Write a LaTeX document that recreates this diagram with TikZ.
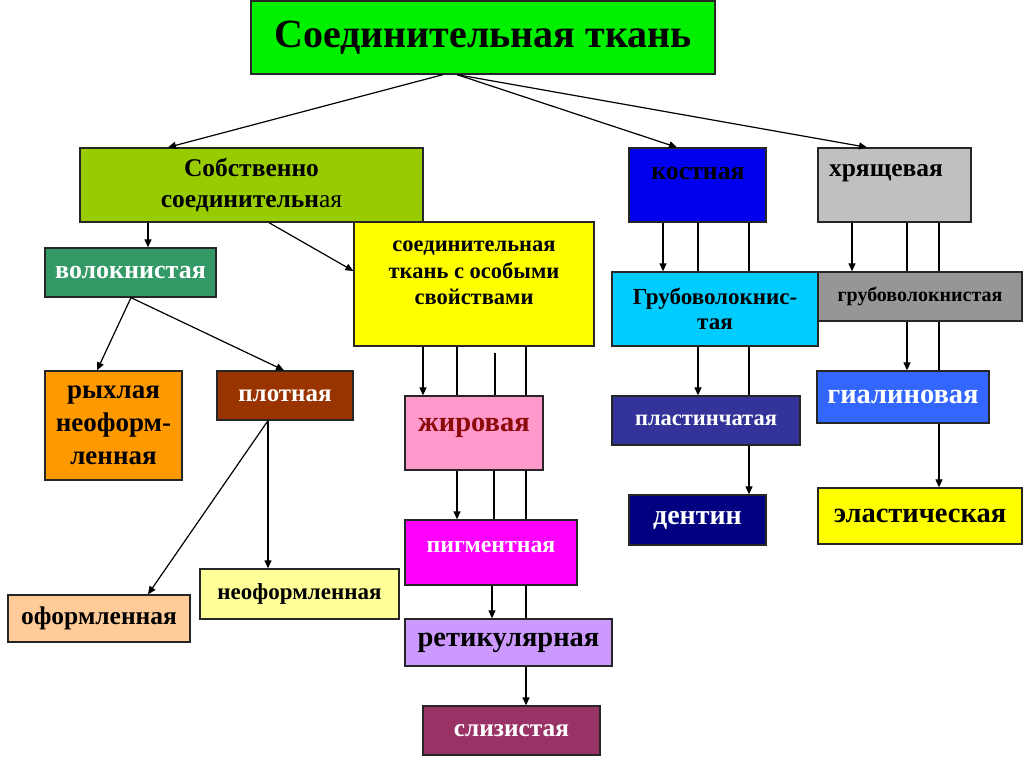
\documentclass[tikz,border=0pt]{standalone}
\usepackage{fontspec}
\setmainfont{Liberation Serif}
\usetikzlibrary{arrows.meta}
\definecolor{cTitle}{HTML}{00F000}
\definecolor{cSob}{HTML}{99CC00}
\definecolor{cKost}{HTML}{0000EE}
\definecolor{cHr}{HTML}{C0C0C0}
\definecolor{cVol}{HTML}{339966}
\definecolor{cSpec}{HTML}{FFFF00}
\definecolor{cGr1}{HTML}{00CCFF}
\definecolor{cGr2}{HTML}{969696}
\definecolor{cRyh}{HTML}{FF9900}
\definecolor{cPlot}{HTML}{993300}
\definecolor{cZhir}{HTML}{FF99CC}
\definecolor{cZhirT}{HTML}{8B0A0A}
\definecolor{cPlast}{HTML}{333399}
\definecolor{cGial}{HTML}{3366FF}
\definecolor{cDent}{HTML}{000080}
\definecolor{cEl}{HTML}{FFFF00}
\definecolor{cPigm}{HTML}{FF00FF}
\definecolor{cOf}{HTML}{FFCC99}
\definecolor{cNeof}{HTML}{FFFF99}
\definecolor{cRet}{HTML}{CC99FF}
\definecolor{cSliz}{HTML}{993366}
\newcommand\fs[2]{\fontsize{#1}{#2}\selectfont\bfseries}
\newcommand\bx[9]{\node[box,fill=#6,text=#7,font=#8,minimum width={(#4-#2)*1pt},minimum height={(#5-#3)*1pt}] (#1) at ({(#2+#4)/2},{(#3+#5)/2}) {#9};}
\begin{document}
\begin{tikzpicture}[x=1pt,y=-1pt,
  box/.style={draw=black!85,line width=1.3pt,inner sep=0pt,align=center},
  arr/.style={-{Triangle[length=8pt,width=7pt]},line width=1.2pt},
  ln/.style={line width=1.2pt}]
\useasboundingbox[fill=white] (0,0) rectangle (1024,768);
% boxes
\bx{title}{251}{1}{715}{74}{cTitle}{black}{\fs{40}{46}}{Соединительная ткань}
\bx{sob}{80}{148}{423}{222}{cSob}{black}{\fs{25.5}{31}}{\rule{0pt}{8pt}Собственно\\соединительн{\mdseries ая}}
\bx{kost}{629}{148}{766}{222}{cKost}{black}{}{}
\bx{hr}{818}{148}{971}{222}{cHr}{black}{}{}
\bx{vol}{45}{248}{216}{297}{cVol}{white}{\fs{26}{30}}{волокнистая}
\bx{spec}{354}{222}{594}{346}{cSpec}{black}{}{}
\bx{gr1}{612}{272}{818}{346}{cGr1}{black}{\fs{23}{25}}{Грубоволокнис-\\тая}
\bx{gr2}{818}{272}{1022}{321}{cGr2}{black}{\fs{20}{22}}{грубоволокнистая}
\bx{ryh}{45}{371}{182}{480}{cRyh}{black}{\fs{27}{33}}{рыхлая\\неоформ-\\ленная}
\bx{plot}{217}{371}{353}{420}{cPlot}{white}{\fs{25}{28}}{плотная}
\bx{zhir}{405}{396}{543}{470}{cZhir}{cZhirT}{}{}
\bx{plast}{612}{396}{800}{445}{cPlast}{white}{\fs{22.5}{25}}{пластинчатая}
\bx{gial}{817}{371}{989}{423}{cGial}{white}{\fs{28.5}{31}}{гиалиновая}
\bx{dent}{629}{495}{766}{545}{cDent}{white}{\fs{28}{31}}{дентин}
\bx{el}{818}{488}{1022}{544}{cEl}{black}{\fs{28.5}{31}}{эластическая}
\bx{pigm}{405}{520}{577}{585}{cPigm}{white}{}{}
\bx{of}{8}{595}{190}{642}{cOf}{black}{\fs{25.5}{28}}{оформленная}
\bx{neof}{200}{569}{399}{619}{cNeof}{black}{\fs{23}{26}}{неоформленная}
\bx{ret}{405}{619}{612}{666}{cRet}{black}{\fs{28.5}{31}}{ретикулярная}
\bx{sliz}{423}{706}{600}{755}{cSliz}{white}{\fs{25.3}{28}}{слизистая}
% off-centre texts
\node[text=black,font=\fs{25.8}{28}] (kostT) at (698,174) {костная};
\node[text=black,font=\fs{25.5}{28}] (hrT) at (886,173) {хрящевая};
\node[align=center,text=black,font=\fs{22.5}{26.5}] (specT) at (474,273) {соединительная\\ткань с особыми\\свойствами};
\node[text=cZhirT,font=\fs{28.5}{31}] (zhirT) at (474,428) {жировая};
\node[text=white,font=\fs{23.8}{26}] (pigmT) at (491,547) {пигментная};
% connectors from title
\draw[arr] (title.south -| 443,0) -- (sob.north -| 168,0);
\draw[arr] (title.south -| 457,0) -- (kost.north -| 677,0);
\draw[arr] (title.south -| 457,0) -- (hr.north -| 867,0);
% left branch
\draw[arr] (sob.south -| 148,0) -- (vol.north -| 148,0);
\draw[arr] (sob.south -| 269,0) -- (spec.west |- 0,271);
\draw[arr] (vol.south -| 131,0) -- (ryh.north -| 97,0);
\draw[arr] (vol.south -| 131,0) -- (plot.north -| 284,0);
\draw[arr] (plot.south -| 268,0) -- (of.north -| 148,0);
\draw[arr] (plot.south -| 268,0) -- (neof.north -| 268,0);
% special chain
\draw[arr] (spec.south -| 423,0) -- (zhir.north -| 423,0);
\draw[ln] (spec.south -| 457,0) -- (zhir.north -| 457,0);
\draw[ln] (spec.south -| 495,0) ++(0,6) -- (zhir.north -| 495,0);
\draw[ln] (spec.south -| 526,0) -- (zhir.north -| 526,0);
\draw[arr] (zhir.south -| 457,0) -- (pigm.north -| 457,0);
\draw[ln] (zhir.south -| 494,0) -- (pigm.north -| 494,0);
\draw[ln] (zhir.south -| 526,0) -- (pigm.north -| 526,0);
\draw[arr] (pigm.south -| 492,0) -- (ret.north -| 492,0);
\draw[ln] (pigm.south -| 526,0) -- (ret.north -| 526,0);
\draw[arr] (ret.south -| 526,0) -- (sliz.north -| 526,0);
% bone chain
\draw[arr] (kost.south -| 663,0) -- (gr1.north -| 663,0);
\draw[ln] (kost.south -| 698,0) -- (gr1.north -| 698,0);
\draw[ln] (kost.south -| 749,0) -- (gr1.north -| 749,0);
\draw[arr] (gr1.south -| 698,0) -- (plast.north -| 698,0);
\draw[ln] (gr1.south -| 749,0) -- (plast.north -| 749,0);
\draw[arr] (plast.south -| 749,0) -- (dent.north -| 749,0);
% cartilage chain
\draw[arr] (hr.south -| 852,0) -- (gr2.north -| 852,0);
\draw[ln] (hr.south -| 907,0) -- (gr2.north -| 907,0);
\draw[ln] (hr.south -| 939,0) -- (gr2.north -| 939,0);
\draw[arr] (gr2.south -| 907,0) -- (gial.north -| 907,0);
\draw[ln] (gr2.south -| 939,0) -- (gial.north -| 939,0);
\draw[arr] (gial.south -| 939,0) -- (el.north -| 939,0);
\end{tikzpicture}
\end{document}
